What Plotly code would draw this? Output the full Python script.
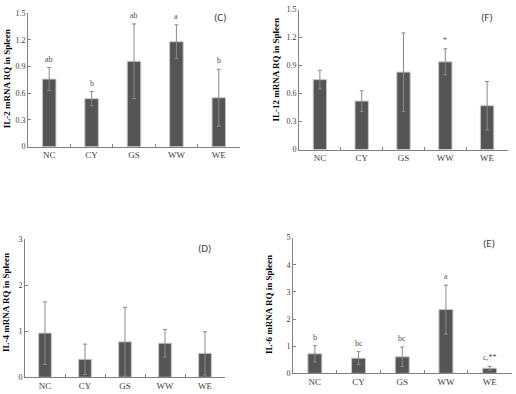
import plotly.graph_objects as go

categories = ["NC", "CY", "GS", "WW", "WE"]

# Panel C: IL-2
il2_values = [0.76, 0.54, 0.96, 1.18, 0.55]
il2_errors = [0.13, 0.08, 0.42, 0.19, 0.32]
il2_letters = ["ab", "b", "ab", "a", "b"]

# Panel F: IL-12
il12_values = [0.75, 0.52, 0.83, 0.94, 0.47]
il12_errors = [0.10, 0.11, 0.42, 0.14, 0.26]
il12_letters = ["", "", "", "*", ""]

# Panel D: IL-4
il4_values = [0.96, 0.39, 0.77, 0.74, 0.52]
il4_errors = [0.68, 0.33, 0.75, 0.30, 0.47]
il4_letters = ["", "", "", "", ""]

# Panel E: IL-6
il6_values = [0.72, 0.56, 0.61, 2.35, 0.19]
il6_errors = [0.30, 0.24, 0.36, 0.90, 0.07]
il6_letters = ["b", "bc", "bc", "a", "c,**"]

W, H = 516, 394
def px(x):
    return x / W
def py(y):
    return 1 - y / H

panels = [
    dict(v=il2_values, e=il2_errors, l=il2_letters, ylab="IL-2 mRNA RQ in Spleen", tag="(C)",
         xd=(28, 240), yd=(146, 9.5), yr=1.5, dt=0.3, lab=(7, 77), tagp=(220, 14)),
    dict(v=il12_values, e=il12_errors, l=il12_letters, ylab="IL-12 mRNA RQ in Spleen", tag="(F)",
         xd=(299, 508), yd=(149, 5.7), yr=1.5, dt=0.3, lab=(276, 67), tagp=(487, 14)),
    dict(v=il4_values, e=il4_errors, l=il4_letters, ylab="IL-4 mRNA RQ in Spleen", tag="(D)",
         xd=(25, 225), yd=(382, 240.7), yr=3, dt=1, lab=(6, 306), tagp=(204, 250)),
    dict(v=il6_values, e=il6_errors, l=il6_letters, ylab="IL-6 mRNA RQ in Spleen", tag="(E)",
         xd=(293, 511.5), yd=(378, 239), yr=5, dt=1, lab=(269, 308), tagp=(489, 245)),
]

fig = go.Figure()
annotations = []
serif = "Liberation Serif, Times New Roman, serif"

for i, p in enumerate(panels):
    n = "" if i == 0 else str(i + 1)
    xa = "x" + n
    ya = "y" + n
    fig.add_trace(go.Bar(
        x=categories, y=p["v"], xaxis=xa, yaxis=ya,
        width=0.32,
        marker=dict(color="#555555", line=dict(color="#c8c8c8", width=1)),
        error_y=dict(type="data", array=p["e"], visible=True, color="#8a8a8a",
                     thickness=1, width=2),
        showlegend=False,
    ))
    axkey = "xaxis" + n
    aykey = "yaxis" + n
    fig.layout[axkey] = dict(
        domain=[px(p["xd"][0]), px(p["xd"][1])], anchor=ya,
        type="category", range=[-0.5, 4.5],
        showline=True, linecolor="#808080", linewidth=1,
        ticks="inside", ticklen=3, tickcolor="#808080", tickson="boundaries",
        showgrid=False, zeroline=False,
        tickfont=dict(family=serif, size=9, color="#404040"),
        fixedrange=True,
    )
    fig.layout[aykey] = dict(
        domain=[py(p["yd"][0]), py(p["yd"][1])], anchor=xa,
        range=[0, p["yr"]], dtick=p["dt"], tick0=0,
        showline=True, linecolor="#808080", linewidth=1,
        ticks="inside", ticklen=3, tickcolor="#808080",
        showgrid=False, zeroline=False,
        tickfont=dict(family=serif, size=8, color="#404040"),
        fixedrange=True,
    )
    for c, v, e, lt in zip(categories, p["v"], p["e"], p["l"]):
        if lt:
            annotations.append(dict(
                x=c, y=v + e, xref=xa, yref=ya, text=lt, showarrow=False,
                yanchor="bottom", yshift=2,
                font=dict(family=serif, size=8, color="#505050"),
            ))
    annotations.append(dict(
        x=px(p["lab"][0]), y=py(p["lab"][1]), xref="paper", yref="paper",
        text="<b>" + p["ylab"] + "</b>", textangle=-90, showarrow=False,
        xanchor="center", yanchor="middle",
        font=dict(family=serif, size=9, color="#000000"),
    ))
    annotations.append(dict(
        x=px(p["tagp"][0]), y=py(p["tagp"][1]), xref="paper", yref="paper",
        text=p["tag"], showarrow=False, xanchor="center", yanchor="middle",
        font=dict(family="Carlito, Liberation Sans, sans-serif", size=11, color="#404040"),
    ))

fig.update_layout(
    width=W, height=H,
    margin=dict(l=0, r=0, t=0, b=0),
    paper_bgcolor="white", plot_bgcolor="white",
    annotations=annotations,
)

fig.write_html(
    "out.html",
    config={"displayModeBar": False},
    post_script="document.body.style.margin='0';document.body.style.overflow='hidden';",
)
